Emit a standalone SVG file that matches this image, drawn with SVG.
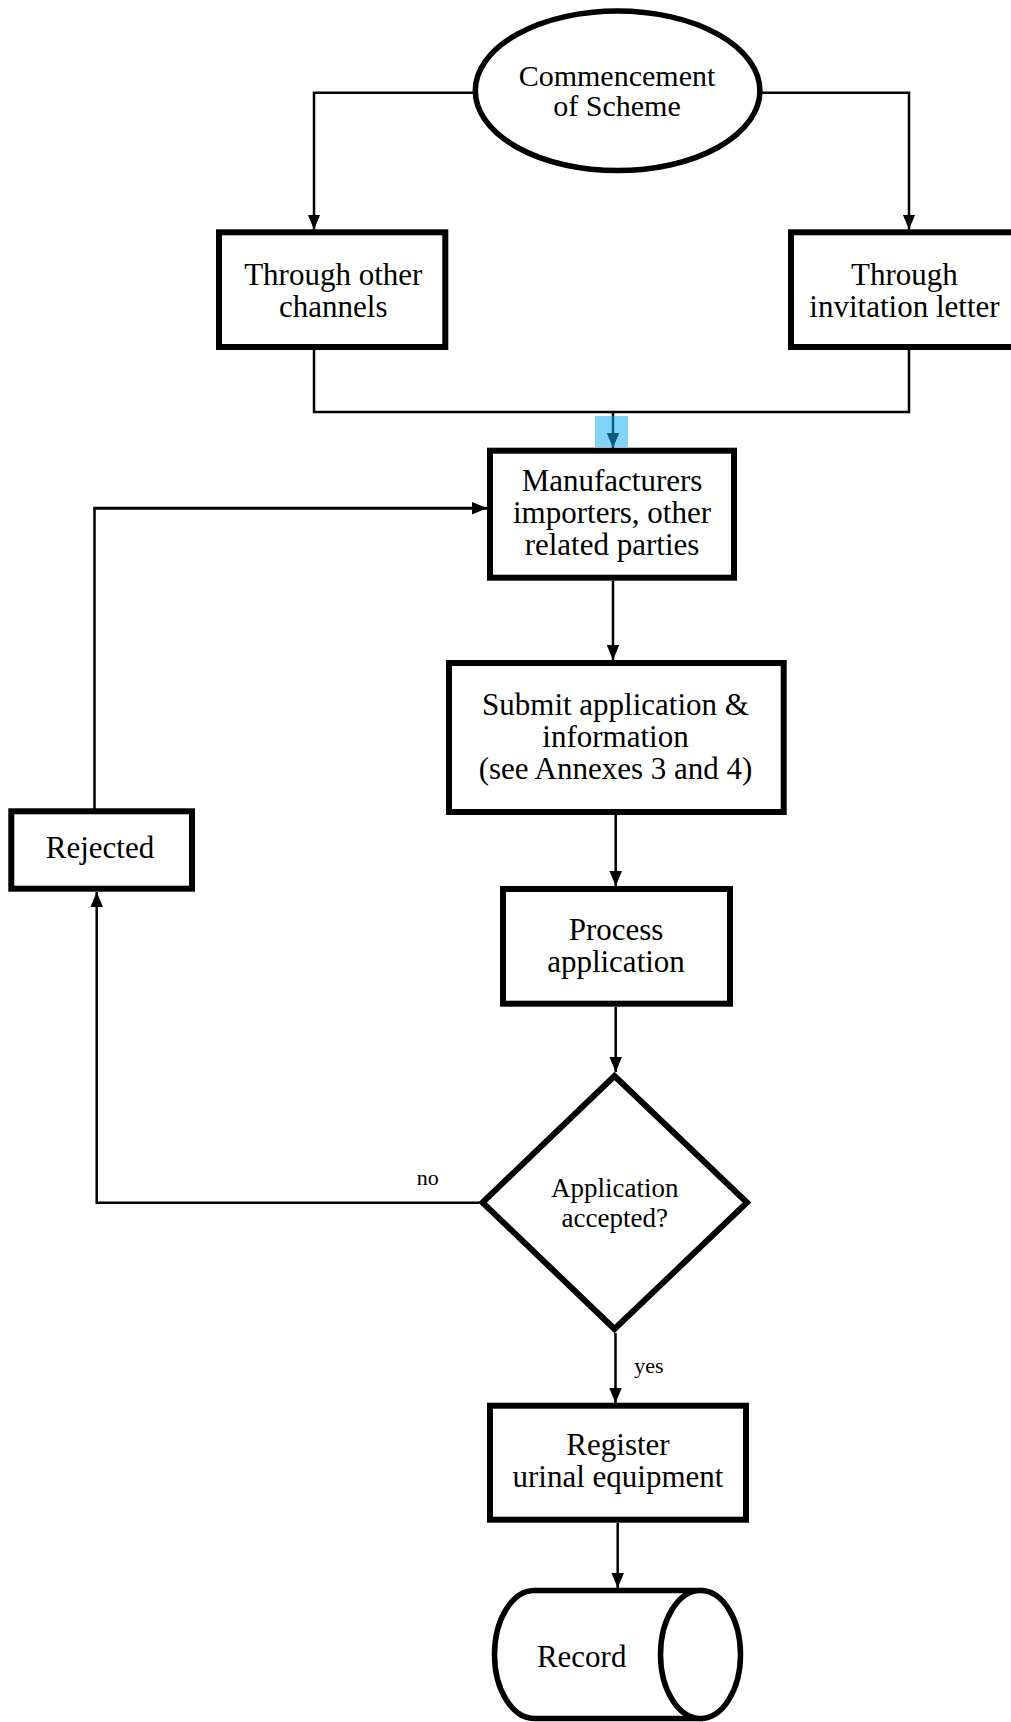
<svg xmlns="http://www.w3.org/2000/svg" width="1011" height="1722" viewBox="0 0 1011 1722">
<style>
.node{fill:#fff;stroke:#000;stroke-width:6}
.t{font-family:"Liberation Serif","Times New Roman",serif;font-size:31px;fill:#000;text-anchor:middle}
.td{font-family:"Liberation Serif","Times New Roman",serif;font-size:27px;fill:#000;text-anchor:middle}
.lbl{font-family:"Liberation Serif","Times New Roman",serif;font-size:22px;fill:#000}
.c{fill:none;stroke:#000;stroke-width:2.5}
</style>
<defs>
<marker id="ah" markerUnits="userSpaceOnUse" markerWidth="15" markerHeight="18" refX="18" refY="7.5" orient="auto" viewBox="0 0 18 15">
<path d="M0,0 L18,7.5 L0,15 Z" fill="#000"/>
</marker>
<marker id="ahb" markerUnits="userSpaceOnUse" markerWidth="15" markerHeight="18" refX="18" refY="7.5" orient="auto" viewBox="0 0 18 15">
<path d="M0,0 L18,7.5 L0,15 Z" fill="#0e5c7c"/>
</marker>
</defs>
<rect width="1011" height="1722" fill="#fff"/>
<g id="connectors">
<path class="c" d="M476,92.7 H314 V229.5" marker-end="url(#ah)"/>
<path class="c" d="M759,92.7 H909 V229.5" marker-end="url(#ah)"/>
<path class="c" d="M314,350 V412 H909 V350"/>
<rect x="595" y="416" width="33" height="31" fill="#80d4f7"/>
<path class="c" d="M613,412 V416"/>
<path fill="none" stroke="#0e5c7c" stroke-width="2.5" d="M613,416 V448" marker-end="url(#ahb)"/>
<path fill="none" stroke="#000" stroke-width="2.5" d="M94.5,809 V508.3"/>
<path fill="none" stroke="#000" stroke-width="3" d="M93.3,508.3 H487" marker-end="url(#ah)"/>
<path class="c" d="M613,581 V660" marker-end="url(#ah)"/>
<path class="c" d="M615.7,815 V886" marker-end="url(#ah)"/>
<path class="c" d="M615.7,1007 V1072" marker-end="url(#ah)"/>
<path class="c" d="M615.5,1333 V1403" marker-end="url(#ah)"/>
<path class="c" d="M617.7,1523 V1588" marker-end="url(#ah)"/>
<path class="c" d="M479,1202.7 H96.7 V892" marker-end="url(#ah)"/>
<text class="lbl" x="416.7" y="1185">no</text>
<text class="lbl" x="634.3" y="1373">yes</text>
</g>
<g id="start">
<ellipse cx="617.6" cy="90.8" rx="142.3" ry="79.8" fill="#fff" stroke="#000" stroke-width="5.5"/>
<text class="t" x="617" y="86" style="font-size:30px">Commencement</text>
<text class="t" x="617" y="116" style="font-size:30px">of Scheme</text>
</g>
<g id="other-channels">
<rect class="node" x="219" y="232.3" width="226.3" height="114.7"/>
<text class="t" x="333.3" y="284.5">Through other</text>
<text class="t" x="333.3" y="316.5">channels</text>
</g>
<g id="invitation">
<rect class="node" x="791" y="232.3" width="226.3" height="114.7"/>
<text class="t" x="904.5" y="284.5">Through</text>
<text class="t" x="904.5" y="316.5">invitation letter</text>
</g>
<g id="manufacturers">
<rect class="node" x="490" y="450.7" width="244" height="127"/>
<text class="t" x="612" y="490.7">Manufacturers</text>
<text class="t" x="612" y="523">importers, other</text>
<text class="t" x="612" y="555">related parties</text>
</g>
<g id="submit">
<rect class="node" x="449" y="663" width="334.7" height="149"/>
<text class="t" x="615.5" y="715">Submit application &amp;</text>
<text class="t" x="615.5" y="747">information</text>
<text class="t" x="615.5" y="779">(see Annexes 3 and 4)</text>
</g>
<g id="rejected">
<rect class="node" x="11.3" y="811.3" width="180.7" height="77.4"/>
<text class="t" x="100" y="858.3">Rejected</text>
</g>
<g id="process">
<rect class="node" x="503" y="889" width="227" height="114.7"/>
<text class="t" x="616" y="939.5">Process</text>
<text class="t" x="616" y="971.5">application</text>
</g>
<g id="decision">
<polygon class="node" points="614.5,1076 747,1202.5 614.5,1329 482.5,1202.5"/>
<text class="td" x="614.7" y="1196.7">Application</text>
<text class="td" x="614.7" y="1226.7">accepted?</text>
</g>
<g id="register">
<rect class="node" x="490" y="1405.7" width="256" height="114"/>
<text class="t" x="618" y="1455">Register</text>
<text class="t" x="618" y="1487">urinal equipment</text>
</g>
<g id="record">
<path d="M700.5,1590.5 H534.5 A40,64 0 0 0 534.5,1718.5 H700.5 Z" fill="#fff" stroke="#000" stroke-width="5.5"/>
<ellipse cx="700.5" cy="1654.5" rx="40" ry="64" fill="#fff" stroke="#000" stroke-width="5.5"/>
<text class="t" x="581.7" y="1667.3">Record</text>
</g>
</svg>
